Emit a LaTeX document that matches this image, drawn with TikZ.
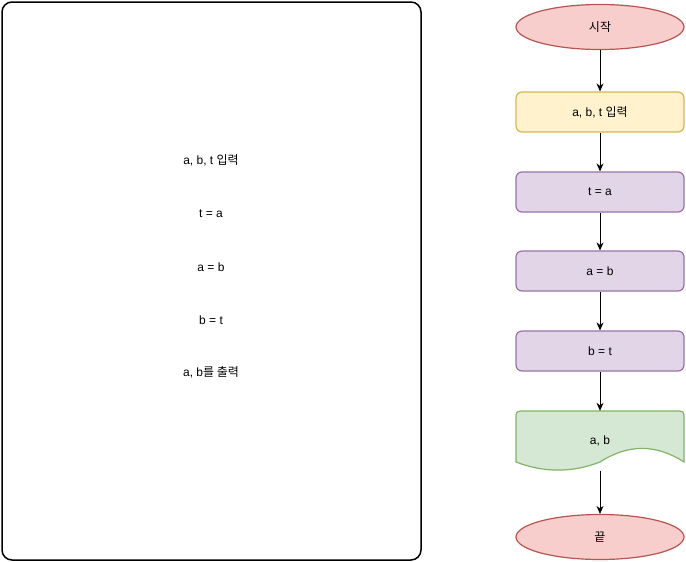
\documentclass[tikz,border=0pt]{standalone}
\usepackage{fontspec}
\setmainfont{Liberation Sans}
\newfontfamily\kr{Noto Sans CJK KR}
\usetikzlibrary{shapes.geometric, arrows.meta, positioning}

\definecolor{redfill}{HTML}{F8CECC}
\definecolor{redline}{HTML}{B85450}
\definecolor{yelfill}{HTML}{FFF2CC}
\definecolor{yelline}{HTML}{D6B656}
\definecolor{purfill}{HTML}{E1D5E7}
\definecolor{purline}{HTML}{9673A6}
\definecolor{grnfill}{HTML}{D5E8D4}
\definecolor{grnline}{HTML}{82B366}

\begin{document}
\begin{tikzpicture}[x=1pt, y=-1pt,
  every node/.style = {font=\fontsize{12}{14}\selectfont},
  terminal/.style = {draw=redline, fill=redfill, ellipse, line width=1.2pt,
                     minimum width=168pt, minimum height=45pt},
  inbox/.style = {draw=yelline, fill=yelfill, rectangle, rounded corners=6pt,
                  line width=1.2pt, minimum width=168pt, minimum height=40pt},
  procbox/.style = {draw=purline, fill=purfill, rectangle, rounded corners=6pt,
                    line width=1.2pt, minimum width=168pt, minimum height=40pt},
  docbox/.style = {rectangle, minimum width=168pt, minimum height=60pt},
  memo/.style = {draw, rectangle, rounded corners=10pt, line width=1.5pt,
                 minimum width=419pt, minimum height=558pt},
  flow/.style = {-{Stealth[length=8pt,width=7pt]}, line width=0.8pt}]

  \useasboundingbox (0,0) rectangle (686,562);

  % left memo
  \node[memo] (memo) at (211.5,281) {};
  \node (l1) at (211,160) {a, b, t {\kr 입력}};
  \node (l2) at (211,214) {t = a};
  \node (l3) at (211,267) {a = b};
  \node (l4) at (211,320) {b = t};
  \node (l5) at (211,372) {a, b{\kr 를 출력}};

  % flow chart
  \node[terminal] (start) at (600,27) {\kr 시작};
  \node[inbox] (input) at (600,112) {a, b, t {\kr 입력}};
  \node[procbox] (ta) at (600,192) {t = a};
  \node[procbox] (ab) at (600,271) {a = b};
  \node[procbox] (bt) at (600,351) {b = t};
  \fill[grnfill] (516,462) [rounded corners=4pt] -- (516,411) -- (684,411)
    [sharp corners] -- (684,462) .. controls (656,443.9) and (628,443.9) .. (600,462)
    .. controls (572,472.8) and (544,472.8) .. (516,462) -- cycle;
  \draw[grnline, line width=1.2pt] (516,462) [rounded corners=4pt] -- (516,411) -- (684,411)
    [sharp corners] -- (684,462) .. controls (656,443.9) and (628,443.9) .. (600,462)
    .. controls (572,472.8) and (544,472.8) .. (516,462) -- cycle;
  \node[docbox] (out) at (600,441) {a, b};
  \node[terminal] (stop) at (600,537) {\kr 끝};

  \draw[flow] (start)--(input);
  \draw[flow] (input)--(ta);
  \draw[flow] (ta)--(ab);
  \draw[flow] (ab)--(bt);
  \draw[flow] (bt)--(out);
  \draw[flow] (out)--(stop);
\end{tikzpicture}
\end{document}
